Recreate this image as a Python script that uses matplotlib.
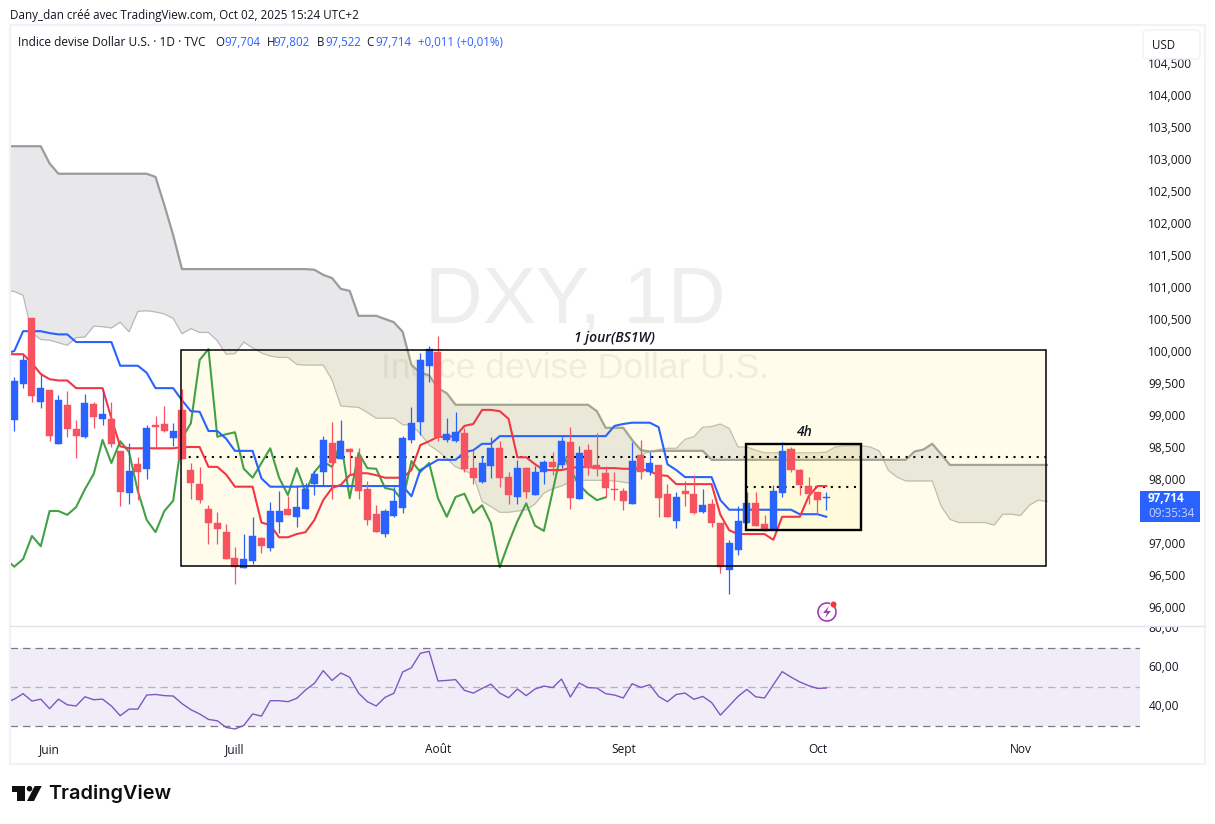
import matplotlib
matplotlib.use('Agg')
import matplotlib.pyplot as plt
from matplotlib.patches import Rectangle, Polygon, Circle, Arc, FancyBboxPatch
from matplotlib.transforms import Bbox, Affine2D
import numpy as np

W, H = 1215, 824
plt.rcParams['font.family'] = ['Open Sans', 'DejaVu Sans']

# daily candles, first one is index 0
opens = [98.92, 99.48, 100.52, 99.20, 99.39, 98.55, 99.16, 98.78, 98.66, 99.17, 98.94, 98.94, 98.44, 97.78, 98.23, 98.16,
         98.84, 98.86, 98.64, 99.08, 98.14, 97.92, 97.53, 97.31, 97.17, 96.77, 96.61, 96.72, 97.08, 96.92, 97.33, 97.53,
         97.41, 97.53, 97.92, 98.11, 98.56, 98.31, 98.47, 98.34, 97.84, 97.45, 97.14, 97.42, 97.55, 98.61, 98.89, 99.77,
         99.98, 98.61, 98.59, 98.72, 98.17, 97.95, 98.20, 98.48, 98.03, 97.72, 98.17, 97.75, 98.11, 98.27, 98.22, 98.58,
         97.69, 98.45, 98.22, 98.09, 97.84, 97.81, 97.61, 98.37, 98.11, 98.22, 97.77, 97.34, 97.81, 97.77, 97.48, 97.61,
         97.31, 96.58, 96.89, 97.31, 97.62, 97.30, 97.20, 97.78, 98.47, 98.14, 97.89, 97.80, 97.704]
highs = [99.59, 99.94, 100.52, 99.64, 99.39, 99.31, 99.37, 98.92, 99.33, 99.20, 99.39, 99.20, 98.44, 98.56, 98.34, 98.84,
         98.98, 99.14, 98.88, 99.41, 98.25, 98.19, 97.59, 97.48, 97.30, 96.94, 97.14, 97.41, 97.09, 97.64, 97.81, 97.73,
         97.91, 97.94, 98.13, 98.67, 98.89, 98.92, 98.48, 98.48, 97.97, 97.59, 97.53, 97.87, 98.67, 99.12, 99.97, 100.08,
         100.23, 98.95, 99.05, 98.80, 98.45, 98.36, 98.66, 98.59, 98.11, 98.30, 98.19, 98.20, 98.30, 98.42, 98.66, 98.81,
         98.52, 98.55, 98.72, 98.20, 98.11, 97.86, 98.58, 98.61, 98.42, 98.22, 97.92, 97.80, 97.97, 98.06, 97.84, 97.69,
         97.31, 97.05, 97.58, 97.80, 97.80, 97.44, 97.91, 98.58, 98.50, 98.16, 98.03, 97.80, 97.802]
lows = [98.75, 99.42, 99.20, 99.11, 98.59, 98.55, 98.66, 98.33, 98.64, 98.80, 98.84, 98.50, 97.58, 97.61, 97.67, 98.00,
        98.47, 98.73, 98.52, 98.31, 97.69, 97.63, 96.99, 96.99, 96.75, 96.36, 96.61, 96.67, 96.84, 96.87, 97.16, 97.44,
        97.25, 97.53, 97.75, 97.91, 97.69, 98.31, 98.08, 97.69, 97.28, 97.17, 97.09, 97.41, 97.47, 98.56, 98.69, 99.52,
        98.59, 98.58, 98.58, 98.11, 97.92, 97.94, 98.02, 97.87, 97.61, 97.61, 97.70, 97.75, 97.92, 98.06, 98.17, 97.53,
        97.69, 98.06, 98.05, 97.72, 97.67, 97.52, 97.61, 98.00, 98.06, 97.41, 97.41, 97.23, 97.58, 97.45, 97.47, 97.25,
        96.53, 96.20, 96.81, 97.31, 97.27, 97.19, 97.20, 97.72, 98.11, 97.75, 97.61, 97.45, 97.522]
closes = [99.53, 99.86, 99.30, 99.42, 98.67, 99.23, 98.78, 98.67, 99.19, 98.97, 99.02, 98.55, 97.80, 98.13, 98.11, 98.80,
          98.81, 98.75, 98.75, 98.31, 97.94, 97.67, 97.31, 97.22, 96.75, 96.63, 96.75, 97.11, 96.95, 97.50, 97.50, 97.44,
          97.56, 97.84, 98.08, 98.61, 98.25, 98.59, 98.42, 97.81, 97.36, 97.17, 97.50, 97.66, 98.64, 98.87, 99.86, 100.03,
          98.66, 98.70, 98.73, 98.16, 98.02, 98.25, 98.48, 98.02, 97.75, 98.17, 97.80, 98.11, 98.27, 98.19, 98.59, 97.70,
          98.41, 98.17, 98.16, 97.86, 97.83, 97.66, 98.28, 98.11, 98.25, 97.70, 97.41, 97.72, 97.77, 97.47, 97.59, 97.31,
          96.62, 97.00, 97.34, 97.62, 97.27, 97.19, 97.81, 98.44, 98.14, 97.91, 97.77, 97.67, 97.714]

# ichimoku lines, these start one bar before the first candle (index -1)
kijun = [99.96, 100.00, 100.31, 100.31, 100.31, 100.28, 100.26, 100.26, 100.14, 100.14, 100.14, 100.14, 100.14, 99.77,
         99.77, 99.77, 99.66, 99.42, 99.42, 99.42, 99.23, 99.06, 99.05, 98.75, 98.75, 98.63, 98.44, 98.44, 98.44, 98.01,
         97.88, 97.88, 97.88, 97.88, 97.89, 97.89, 97.89, 97.89, 97.89, 97.89, 97.89, 97.89, 97.89, 97.89, 97.89, 97.89,
         97.73, 98.14, 98.22, 98.30, 98.30, 98.30, 98.42, 98.45, 98.55, 98.55, 98.67, 98.67, 98.67, 98.67, 98.67, 98.67,
         98.67, 98.67, 98.67, 98.67, 98.67, 98.67, 98.67, 98.83, 98.86, 98.88, 98.88, 98.88, 98.81, 98.23, 98.14, 98.03,
         98.03, 98.03, 98.03, 97.67, 97.52, 97.52, 97.52, 97.52, 97.52, 97.52, 97.52, 97.52, 97.45, 97.45, 97.45, 97.41]
tenkan = [99.95, 99.95, 99.95, 99.81, 99.64, 99.56, 99.54, 99.54, 99.42, 99.42, 99.42, 99.42, 98.95, 98.51, 98.48, 98.48,
          98.48, 98.48, 98.48, 98.48, 98.50, 98.50, 98.50, 98.19, 98.19, 98.07, 97.88, 97.88, 97.88, 97.32, 97.28, 97.09,
          97.09, 97.14, 97.17, 97.36, 97.67, 97.86, 97.91, 98.06, 98.09, 98.09, 98.06, 98.02, 98.02, 98.02, 98.14, 98.53,
          98.59, 98.66, 98.66, 98.67, 98.83, 98.86, 99.08, 99.08, 99.06, 98.94, 98.34, 98.34, 98.23, 98.14, 98.14, 98.14,
          98.17, 98.19, 98.19, 98.17, 98.17, 98.17, 98.16, 98.16, 98.16, 98.12, 98.06, 98.05, 97.92, 97.92, 97.92, 97.92,
          97.92, 97.44, 97.20, 97.14, 97.14, 97.14, 97.14, 97.05, 97.41, 97.41, 97.41, 97.73, 97.89, 97.89]
chikou = [96.75, 96.63, 96.75, 97.11, 96.95, 97.50, 97.50, 97.44, 97.56, 97.84, 98.08, 98.61, 98.25, 98.59, 98.42, 97.81,
          97.36, 97.17, 97.50, 97.66, 98.64, 98.87, 99.86, 100.03, 98.66, 98.70, 98.73, 98.16, 98.02, 98.25, 98.48, 98.02,
          97.75, 98.17, 97.80, 98.11, 98.27, 98.19, 98.59, 97.70, 98.41, 98.17, 98.16, 97.86, 97.83, 97.66, 98.28, 98.11,
          98.25, 97.70, 97.41, 97.72, 97.77, 97.47, 97.59, 97.31, 96.62, 97.00, 97.34, 97.62, 97.27, 97.19, 97.81, 98.44,
          98.14, 97.91, 97.77, 97.67, 97.714]
span_a = [100.95, 100.93, 100.87, 100.28, 100.18, 100.17, 100.13, 100.09, 100.21, 100.22, 100.39, 100.38, 100.36, 100.45,
          100.30, 100.62, 100.63, 100.61, 100.58, 100.51, 100.27, 100.35, 100.29, 100.29, 100.16, 99.95, 99.96, 100.14,
          100.05, 99.97, 99.92, 99.90, 99.90, 99.79, 99.78, 99.78, 99.78, 99.55, 99.14, 99.13, 99.12, 99.04, 98.95, 98.95,
          98.95, 98.85, 98.84, 98.71, 98.53, 98.44, 98.32, 98.19, 98.14, 98.06, 97.65, 97.57, 97.48, 97.48, 97.50, 97.52,
          97.61, 97.78, 97.85, 97.89, 97.96, 97.98, 97.98, 97.98, 97.98, 97.97, 97.95, 97.93, 98.38, 98.43, 98.46, 98.48,
          98.48, 98.62, 98.66, 98.81, 98.82, 98.86, 98.79, 98.50, 98.50, 98.45, 98.41, 98.41, 98.41, 98.41, 98.41, 98.41,
          98.41, 98.42, 98.50, 98.52, 98.52, 98.52, 98.50, 98.44, 98.14, 98.03, 97.97, 97.97, 97.97, 97.97, 97.58, 97.37,
          97.32, 97.32, 97.32, 97.32, 97.28, 97.45, 97.45, 97.43, 97.59, 97.67, 97.65]
span_b = [103.20, 103.20, 103.20, 103.20, 103.20, 102.93, 102.77, 102.77, 102.77, 102.77,
          102.77, 102.77, 102.77, 102.77, 102.77, 102.77, 102.77, 102.72, 102.28, 101.81,
          101.28, 101.28, 101.28, 101.28, 101.28, 101.28, 101.28, 101.28, 101.28, 101.28,
          101.28, 101.28, 101.28, 101.28, 101.28, 101.27, 101.19, 101.14, 100.97, 100.94,
          100.55, 100.55, 100.55, 100.50, 100.45, 100.30, 99.78, 99.66, 99.62, 99.42,
          99.34, 99.16, 99.16, 99.16, 99.16, 99.16, 99.16, 99.16, 99.16, 99.16,
          99.16, 99.16, 99.16, 99.16, 99.16, 99.16, 99.16, 99.06, 98.80, 98.80,
          98.80, 98.61, 98.45, 98.43, 98.44, 98.44, 98.44, 98.44, 98.44, 98.44,
          98.30, 98.30, 98.30, 98.30, 98.30, 98.30, 98.30, 98.30, 98.30, 98.30,
          98.30, 98.30, 98.30, 98.30, 98.30, 98.30, 98.30, 98.30, 98.30, 98.30,
          98.30, 98.30, 98.30, 98.43, 98.46, 98.55, 98.39, 98.22, 98.22, 98.22,
          98.22, 98.22, 98.22, 98.22, 98.22, 98.22, 98.22, 98.22, 98.22]
rsi = [42.0, 43.8, 46.6, 42.8, 43.8, 38.9, 43.8, 40.9, 40.3, 45.0, 43.5, 43.8, 40.3, 35.3, 38.7, 38.7, 45.9, 46.2, 45.6,
       45.4, 41.5, 38.4, 36.2, 33.4, 32.7, 29.3, 28.5, 30.3, 36.2, 35.1, 43.0, 43.0, 42.5, 44.2, 48.5, 51.9, 58.4, 53.4,
       57.2, 55.0, 46.9, 42.5, 40.3, 44.7, 46.8, 57.7, 59.9, 67.3, 68.3, 53.1, 53.4, 53.8, 48.3, 46.9, 49.3, 51.5, 46.9,
       44.5, 49.0, 45.6, 49.0, 50.5, 49.7, 54.1, 44.9, 52.1, 49.7, 49.5, 46.6, 45.9, 44.4, 51.7, 49.8, 51.2, 45.2, 42.5,
       46.2, 46.9, 43.7, 45.2, 42.1, 35.6, 40.4, 45.2, 48.8, 45.0, 44.4, 51.2, 57.9, 55.1, 52.6, 50.7, 49.3, 49.5]

# drawings on the chart: (bar left, bar right, price low, price high)
box_day = (18.9, 116.9, 96.64, 100.02)
box_4h = (82.9, 95.9, 97.20, 98.55)
dotted_day = 98.34
dotted_4h = 97.875

# 97,500 sits under the last price tag in the original
price_ticks = [96.0, 96.5, 97.0, 98.0, 98.5, 99.0, 99.5, 100.0, 100.5, 101.0, 101.5, 102.0, 102.5, 103.0, 103.5,
               104.0, 104.5]
rsi_ticks = [40, 60, 80]
month_pos = [4, 25, 48, 69, 91, 114]
month_names = ['Juin', 'Juill', 'Août', 'Sept', 'Oct', 'Nov']

BLUE = '#2962ff'
RED = '#f7525f'
TXT = '#131722'


def box_px(left, top, right, bottom):
    return [left / W, (H - bottom) / H, (right - left) / W, (bottom - top) / H]


fig = plt.figure(figsize=(W / 100, H / 100), dpi=100, facecolor='white')
ax = fig.add_axes(box_px(10, 25, 1140, 625))
ax2 = fig.add_axes(box_px(10, 626, 1140, 736))

# main pane
ax.set_xlim(-0.487, 127.54)
ax.set_ylim(95.719, 105.094)
for s in ax.spines.values():
    s.set_visible(False)
ax.yaxis.tick_right()
ax.set_yticks(price_ticks)
ax.set_yticklabels([('%.3f' % p).replace('.', ',') for p in price_ticks], fontsize=8.6, color=TXT)
ax.set_xticks([])
ax.tick_params(axis='y', length=0, pad=6)

ax.text(0.5, 0.537, 'DXY, 1D', transform=ax.transAxes, ha='center', va='center', fontsize=57.5,
        family='Liberation Sans', color='#eeeeef', zorder=0)
ax.text(0.5, 0.427, 'Indice devise Dollar U.S.', transform=ax.transAxes, ha='center', va='center', fontsize=25.5,
        family='Liberation Sans', color='#eeeeef', zorder=0)

xl = np.arange(len(span_a)) - 1
ax.fill_between(xl, span_a, span_b, color='#787b86', alpha=0.17, linewidth=0, zorder=1)
ax.plot(xl, span_a, color='#b9b9b9', lw=0.9, zorder=1.5)
ax.plot(np.arange(len(span_b)) - 1, span_b, color='#9b9b9b', lw=1.6, zorder=1.5)

# zones
for b in (box_day, box_4h):
    ax.add_patch(Rectangle((b[0], b[2]), b[1] - b[0], b[3] - b[2], facecolor='#ffeb3b', alpha=0.1, linewidth=0, zorder=2))
ax.plot([box_day[0], box_day[1]], [dotted_day, dotted_day], color='black', lw=1.5, ls=(0, (1, 2.7)), zorder=3)
ax.plot([box_4h[0], box_4h[1]], [dotted_4h, dotted_4h], color='black', lw=1.5, ls=(0, (1, 2.7)), zorder=3)

ax.plot(np.arange(len(chikou)) - 1, chikou, color='#43a047', lw=1.5, zorder=4)
ax.plot(np.arange(len(kijun)) - 1, kijun, color=BLUE, lw=1.5, zorder=4)
ax.plot(np.arange(len(tenkan)) - 1, tenkan, color='#f23645', lw=1.5, zorder=4)

# candles
x = np.arange(len(closes))
o = np.array(opens)
c = np.array(closes)
col = [BLUE if c[i] >= o[i] else RED for i in range(len(c))]
ax.vlines(x, lows, highs, colors=col, lw=0.9, zorder=5)
ax.bar(x, np.abs(c - o), bottom=np.minimum(o, c), width=0.8, color=col, edgecolor=col, linewidth=0.3, zorder=5)

ax.add_patch(Rectangle((box_day[0], box_day[2]), box_day[1] - box_day[0], box_day[3] - box_day[2], fill=False,
                       edgecolor='black', lw=1.1, zorder=6))
ax.add_patch(Rectangle((box_4h[0], box_4h[2]), box_4h[1] - box_4h[0], box_4h[3] - box_4h[2], fill=False,
                       edgecolor='black', lw=1.7, zorder=6))
ax.text(68, 100.03 + 0.07, '1 jour(BS1W)', ha='center', va='bottom', style='italic', fontsize=10, color=TXT, zorder=7,
        fontweight='semibold')
ax.text(89.5, 98.55 + 0.07, '4h', ha='center', va='bottom', style='italic', fontsize=10, color=TXT, zorder=7,
        fontweight='semibold')

# rsi pane
ax2.set_xlim(-0.487, 127.54)
ax2.set_ylim(24.9, 81.3)
for s in ax2.spines.values():
    s.set_visible(False)
ax2.axhspan(30, 70, facecolor='#7e57c2', alpha=0.1, linewidth=0)
ax2.axhline(70, color='#787b86', lw=0.9, ls=(0, (6, 4)))
ax2.axhline(50, color='#787b86', lw=0.9, ls=(0, (6, 4)), alpha=0.5)
ax2.axhline(30, color='#787b86', lw=0.9, ls=(0, (6, 4)))
ax2.plot(np.arange(len(rsi)) - 1, rsi, color='#7e57c2', lw=1)
ax2.yaxis.tick_right()
ax2.set_yticks(rsi_ticks)
ax2.set_yticklabels(['%d,00' % t for t in rsi_ticks], fontsize=8.6, color=TXT)
ax2.set_xticks(month_pos)
ax2.set_xticklabels(month_names, fontsize=8.6, color=TXT)
ax2.tick_params(axis='both', length=0)
ax2.tick_params(axis='y', pad=6)
ax2.tick_params(axis='x', pad=5)
for lab in ax2.get_yticklabels():
    lab.set_transform(lab.get_transform() + Affine2D().translate(0, 2))
    lab.set_clip_box(Bbox([[1140, 0], [1215, H - 626]]))
    lab.set_clip_on(True)

# chrome in pixel coords
ov = fig.add_axes([0, 0, 1, 1], zorder=10)
ov.set_xlim(0, W)
ov.set_ylim(H, 0)
ov.axis('off')
ov.patch.set_alpha(0)
ov.add_patch(Rectangle((10, 25), 1195, 739, fill=False, edgecolor='#f0f2f5', lw=1.5))
ov.plot([10, 1205], [625.5, 625.5], color='#e0e3eb', lw=1)

ov.text(10, 15, 'Dany_dan créé avec TradingView.com, Oct 02, 2025 15:24 UTC+2', fontsize=8.4, color=TXT, va='center')
ov.text(18, 42, 'Indice devise Dollar U.S. · 1D · TVC', fontsize=8.6, color=TXT, va='center')
for xp, s, cc in [(215, 'O', TXT), (224, '97,704', BLUE), (266.7, 'H', TXT), (273.3, '97,802', BLUE), (316.7, 'B', TXT),
                  (325, '97,522', BLUE), (366.7, 'C', TXT), (375, '97,714', BLUE), (417.7, '+0,011 (+0,01%)', BLUE)]:
    ov.text(xp, 42, s, fontsize=8.3, color=cc, va='center')

ov.add_patch(FancyBboxPatch((1146, 33), 51, 23, boxstyle='round,pad=3,rounding_size=4', facecolor='white',
                            edgecolor='#f0f2f5', lw=1))
ov.text(1152, 45, 'USD', fontsize=8.3, color=TXT, va='center')

ov.add_patch(Rectangle((1140, 491), 60, 31, facecolor=BLUE, linewidth=0))
ov.text(1148, 498.5, '97,714', fontsize=8.4, color='white', va='center', fontweight='bold')
ov.text(1148, 513.5, '09:35:34', fontsize=8.4, color='#c3d2ff', va='center')

# flash icon
ov.add_patch(Arc((827, 612), 18, 18, theta1=-40, theta2=290, color='#a13cb8', lw=1.2))
ov.add_patch(Polygon([(829, 606), (823, 613), (827, 613), (825, 618), (831, 611), (827, 611)], color='#a13cb8', lw=0))
ov.add_patch(Circle((833.5, 604.5), 3, color='#f23645', lw=0))

# logo
ov.add_patch(Polygon([(12, 786), (25, 786), (25, 801), (17.3, 801), (17.3, 792), (12, 792)], color='#0f0f0f', lw=0))
ov.add_patch(Circle((29.5, 788.7), 2.8, color='#0f0f0f', lw=0))
ov.add_patch(Polygon([(34.7, 786), (41.7, 786), (34, 801), (27, 801)], color='#0f0f0f', lw=0))
ov.text(48.5, 794, 'TradingView', fontsize=14.3, family='Inter', fontweight='semibold', color='#0f0f0f', va='center')

if len(span_a) != 119 or len(span_b) != 119:
    raise ValueError('span lengths %d %d' % (len(span_a), len(span_b)))
fig.savefig('out.png', dpi=100, facecolor='white')
